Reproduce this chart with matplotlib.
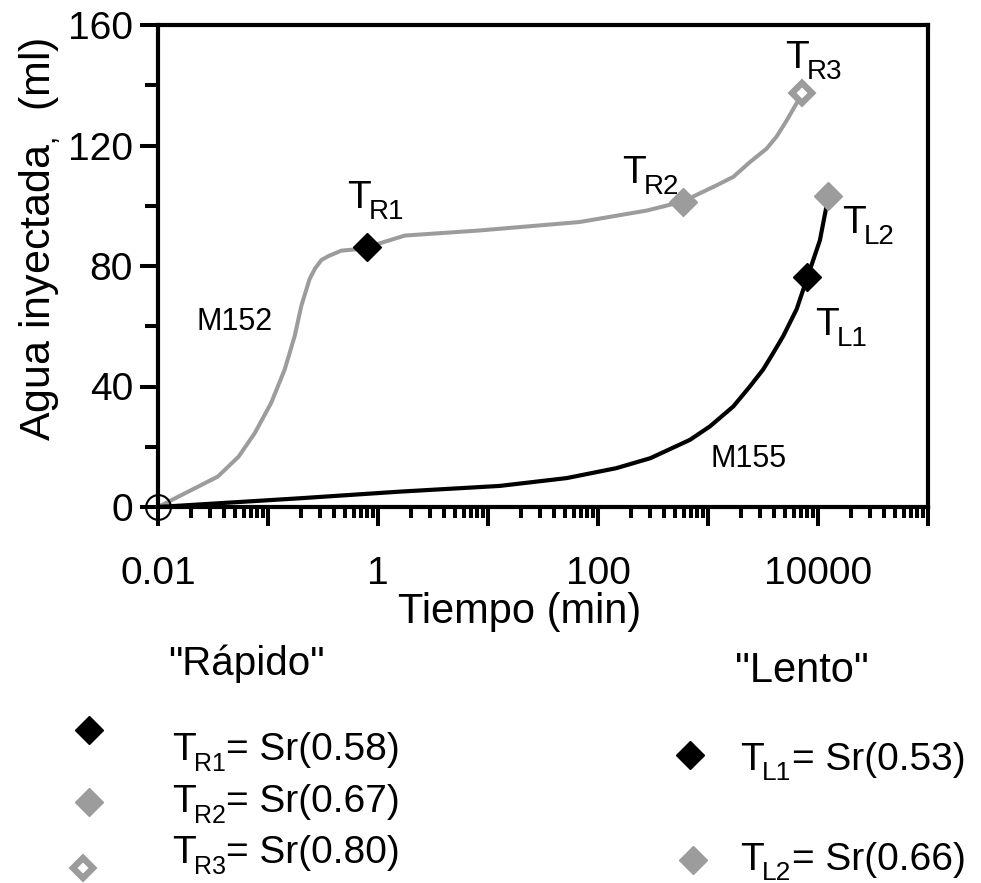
import matplotlib
matplotlib.use("Agg")
import matplotlib.pyplot as plt
from matplotlib.lines import Line2D
from matplotlib.ticker import FixedLocator, MultipleLocator, LogLocator, FuncFormatter, NullFormatter

plt.rcParams['font.family'] = ['Liberation Sans', 'DejaVu Sans']
plt.rcParams['mathtext.fontset'] = 'custom'
plt.rcParams['mathtext.rm'] = 'Liberation Sans'
plt.rcParams['mathtext.it'] = 'Liberation Sans:italic'

# curve M152 ("rapido"), tiempo (min) vs agua inyectada (ml)
m152_t = [0.01, 0.035, 0.054, 0.076, 0.107, 0.142, 0.175, 0.201, 0.239, 0.268,
          0.306, 0.355, 0.464, 0.62, 0.79, 1.75, 8.4, 68, 277, 592, 840,
          1200, 1700, 2390, 3420, 4210, 5190, 7200]
m152_w = [0, 10.1, 16.7, 24.6, 34.6, 45.7, 56.8, 66.8, 75.7, 79.2,
          82.0, 83.3, 85.1, 85.5, 86.2, 90.1, 91.8, 94.6, 98.4, 101.4, 104.1,
          106.8, 109.6, 114.4, 119.0, 123.0, 128.3, 137.3]

# curve M155 ("lento")
m155_t = [0.01, 0.195, 1.58, 12.8, 52, 147, 299, 686, 1045, 1700, 2390,
          3180, 3840, 4840, 6400, 8000, 10400, 12400]
m155_w = [0, 2.9, 5.1, 7.0, 9.6, 12.9, 16.2, 22.3, 26.8, 33.4, 39.9,
          45.7, 50.6, 56.8, 65.7, 76.2, 88.5, 102.9]

# saturation points
rap_names = ['R1', 'R2', 'R3']
rap_t = [0.79, 592, 7200]
rap_w = [86.2, 101.4, 137.3]
rap_sr = ['0.58', '0.67', '0.80']

len_names = ['L1', 'L2']
len_t = [8000, 12300]
len_w = [76.2, 103.2]
len_sr = ['0.53', '0.66']

GRAY = '#9c9c9c'
styles = {
    'black': dict(marker='D', ms=14.5, mfc='black', mec='black', mew=1),
    'gray': dict(marker='D', ms=14.5, mfc=GRAY, mec=GRAY, mew=1),
    'open': dict(marker='D', ms=9.7, mfc='white', mec=GRAY, mew=4.6),
}
rap_style = ['black', 'gray', 'open']
len_style = ['black', 'gray']

W, H = 981, 883
fig = plt.figure(figsize=(W / 100, H / 100), dpi=100)
ax = fig.add_axes([158 / W, 1 - 507 / H, 770 / W, 482 / H])


def t_label(x, y, sub, coords, rest='', size=28, subsize=20, sub_dy=-8):
    """Draw 'T' with a subscript (and optional trailing text) at a baseline point."""
    kw = dict(ha='left', va='baseline', annotation_clip=False)
    t = ax.annotate('T', xy=(x, y), xycoords=coords, fontsize=size, **kw)
    s = ax.annotate(sub, xy=(1, y), xycoords=(t, coords), xytext=(-1.5, sub_dy),
                    textcoords='offset points', fontsize=subsize, **kw)
    if rest:
        ax.annotate(rest, xy=(1, y), xycoords=(s, coords), xytext=(0.5, 0),
                    textcoords='offset points', fontsize=size, **kw)


ax.plot(m152_t, m152_w, color=GRAY, lw=2.9, clip_on=False, zorder=2)
ax.plot(m155_t, m155_w, color='black', lw=3.0, clip_on=False, zorder=2)
ax.plot([m155_t[0]], [m155_w[0]], marker='o', ms=17.8, mfc='none', mec='black',
        mew=1.5, clip_on=False, zorder=4)

for t, w, s in zip(rap_t, rap_w, rap_style):
    ax.plot([t], [w], ls='none', zorder=3, clip_on=False, **styles[s])
for t, w, s in zip(len_t, len_w, len_style):
    ax.plot([t], [w], ls='none', zorder=3, clip_on=False, **styles[s])

# point labels
t_label(0.523, 99.3, 'R1', 'data')
t_label(165, 107.5, 'R2', 'data')
t_label(5010, 145.7, 'R3', 'data')
t_label(16500, 91.0, 'L2', 'data')
t_label(9400, 57.1, 'L1', 'data')
ax.text(0.0226, 58.8, 'M152', fontsize=22, ha='left', va='baseline')
ax.text(1043, 13.4, 'M155', fontsize=22, ha='left', va='baseline')

ax.set_xscale('log')
ax.set_xlim(0.01, 1e5)
ax.set_ylim(0, 160)

ax.xaxis.set_major_locator(FixedLocator([10.0 ** k for k in range(-2, 6)]))
ax.xaxis.set_minor_locator(LogLocator(base=10, subs=range(2, 10), numticks=20))
ax.xaxis.set_minor_formatter(NullFormatter())
shown = [0.01, 1, 100, 10000]
ax.xaxis.set_major_formatter(FuncFormatter(
    lambda v, p: f'{v:g}' if any(abs(v - s) / s < 1e-6 for s in shown) else ''))
ax.yaxis.set_major_locator(MultipleLocator(40))
ax.yaxis.set_minor_locator(MultipleLocator(20))

for sp in ax.spines.values():
    sp.set_linewidth(3.0)
ax.tick_params(axis='both', which='both', direction='out', width=2.9,
               labelsize=28, top=False, right=False)
ax.tick_params(axis='x', which='major', length=14, pad=21)
ax.tick_params(axis='x', which='minor', length=8)
ax.tick_params(axis='y', which='major', length=13, pad=5)
ax.tick_params(axis='y', which='minor', length=9.4)

ax.set_xlabel('Tiempo (min)', fontsize=30)
ax.xaxis.set_label_coords(0.469, -0.176)
ax.set_ylabel(r'Agua inyectada$_{,}$  (ml)', fontsize=31)
ax.yaxis.set_label_coords(-0.124, 0.556)

# legend block below the chart (figure pixel layout)
fig.text(168 / W, 1 - 675 / H, '"Rápido"', fontsize=29, ha='left', va='baseline')
fig.text(735 / W, 1 - 682 / H, '"Lento"', fontsize=30, ha='left', va='baseline')

rap_mark_xy = [(89, 730), (89, 802), (83, 868)]
rap_text_y = [760, 812, 863]
for name, sr, s, (mx, my), ty in zip(rap_names, rap_sr, rap_style, rap_mark_xy, rap_text_y):
    fig.add_artist(Line2D([mx / W], [1 - my / H], transform=fig.transFigure,
                          ls='none', **styles[s]))
    t_label(172 / W, 1 - ty / H, name, 'figure fraction',
            rest='= Sr(%s)' % sr, subsize=18, sub_dy=-8)

len_mark_xy = [(690, 755), (693, 860)]
len_text_y = [770, 870]
for name, sr, s, (mx, my), ty in zip(len_names, len_sr, len_style, len_mark_xy, len_text_y):
    fig.add_artist(Line2D([mx / W], [1 - my / H], transform=fig.transFigure,
                          ls='none', **styles[s]))
    t_label(740 / W, 1 - ty / H, name, 'figure fraction',
            rest='= Sr(%s)' % sr, subsize=19, sub_dy=-7)

fig.savefig('out.png', dpi=100)
